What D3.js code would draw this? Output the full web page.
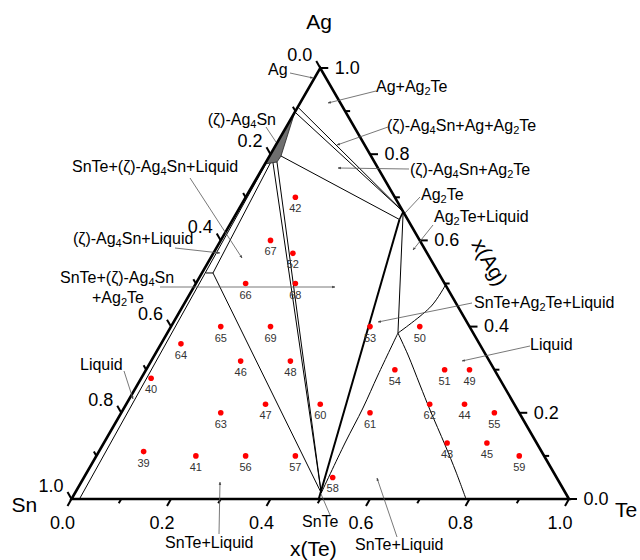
<!DOCTYPE html>
<html><head><meta charset="utf-8">
<script src="https://cdn.jsdelivr.net/npm/d3@7"></script>
<style>
body{margin:0;background:#fff}
svg{display:block}
text{font-family:"Liberation Sans",Arial,Helvetica,sans-serif;fill:#000}
</style>
</head><body>
<svg id="chart" width="640" height="560"></svg>
<script>
// ---------------- DATA ----------------
const tickValues = [0, 0.2, 0.4, 0.6, 0.8, 1.0];
const tickLabels = ["0.0", "0.2", "0.4", "0.6", "0.8", "1.0"];
const minorTickValues = [0.1, 0.3, 0.5, 0.7, 0.9];

// sample compositions (x(Te), x(Ag))
const sampleIds = [42,67,52,66,68,65,69,64,46,48,40,63,47,60,39,41,56,57,53,50,54,51,49,62,44,61,55,43,45,59,58];
const sampleTe  = [0.10,0.10,0.16,0.10,0.20,0.10,0.20,0.04,0.18,0.28,0.02,0.20,0.28,0.39,0.09,0.20,0.30,0.40,0.40,0.50,0.50,0.60,0.65,0.61,0.68,0.50,0.75,0.69,0.77,0.85,0.50];
const sampleAg  = [0.70,0.60,0.57,0.50,0.50,0.40,0.40,0.36,0.32,0.32,0.28,0.20,0.22,0.22,0.11,0.10,0.10,0.10,0.40,0.40,0.30,0.30,0.30,0.22,0.22,0.20,0.20,0.13,0.13,0.10,0.05];

// phase-boundary compositions, each point [x(Te), x(Ag)]
const zetaPhase        = [[0,0.8979],[0,0.7773],[0.0221,0.7819],[0.0232,0.7958]];
const tieAgAg2Te       = [[0,0.9095],[0.3333,0.6667]];
const tieZetaTopAg2Te  = [[0,0.8979],[0.3333,0.6667]];
const tieZetaAg2Te     = [[0.0232,0.7958],[0.335,0.6485]];
const ag2teRange       = [[0.3333,0.6667],[0.335,0.6485]];
const tieZetaSnTeA     = [[0.0150,0.7800],[0.495,0.014]];
const tieZetaSnTeB     = [[0.0221,0.7819],[0.495,0.014]];
const snteAg2Te        = [[0.335,0.6485],[0.497,0]];
const tieZetaLiquid    = [[0.0100,0.7790],[0.0222,0.5244]];
const liquidTieShort   = [[0.0082,0.5244],[0.0222,0.5244]];
const liquidSnSide     = [[0.002,0.7773],[0.016,0]];
const tieLiquidSnTe    = [[0.0222,0.5244],[0.495,0.014]];
const tieAg2TeLiquid   = [[0.3333,0.6667],[0.4637,0.385]];
const liquidusAg2Te    = [[0.5035,0.4965],[0.4995,0.4478],[0.4637,0.385]];
const liquidusSnTeL    = [[0.4637,0.385],[0.4722,0.2877],[0.4803,0.2111],[0.4848,0.1299],[0.495,0.014]];
const liquidusTeSide   = [[0.4637,0.385],[0.5094,0.3341],[0.5682,0.2645],[0.6174,0.2065],[0.6882,0.1253],[0.7416,0.0626],[0.793,0]];

// ---------------- LAYOUT ----------------
const svg = d3.select("#chart");
const sx = d3.scaleLinear().domain([0,1]).range([71.5,569]);
const sy = d3.scaleLinear().domain([0,1]).range([499,68]);
const P = d => [sx(d[0] + d[1]/2), sy(d[1])];
const line = d3.line().x(d => P(d)[0]).y(d => P(d)[1]);
const curve = d3.line().x(d => P(d)[0]).y(d => P(d)[1]).curve(d3.curveCatmullRom.alpha(0.5));

// arrow marker
svg.append("defs").append("marker")
  .attr("id","ah").attr("viewBox","0 0 10 10").attr("refX",9).attr("refY",5)
  .attr("markerWidth",4).attr("markerHeight",4).attr("orient","auto")
  .append("path").attr("d","M0,1 L10,5 L0,9 z").attr("fill","#444");

const g = svg.append("g");

// zeta phase (grey)
g.append("path").datum(zetaPhase)
  .attr("d", d => line(d) + "Z")
  .attr("fill","#6e6e6e").attr("stroke","#222").attr("stroke-width",0.8);

// thin boundary lines
const thin = [tieAgAg2Te, tieZetaTopAg2Te, tieZetaAg2Te, tieZetaSnTeA, tieZetaSnTeB,
  tieZetaLiquid, liquidTieShort, liquidSnSide, tieLiquidSnTe, tieAg2TeLiquid];
g.selectAll("path.thin").data(thin).join("path").attr("class","thin")
  .attr("d", line).attr("fill","none").attr("stroke","#000").attr("stroke-width",1);
const curves = [liquidusAg2Te, liquidusSnTeL, liquidusTeSide];
g.selectAll("path.crv").data(curves).join("path").attr("class","crv")
  .attr("d", curve).attr("fill","none").attr("stroke","#000").attr("stroke-width",1);
g.append("path").datum(ag2teRange).attr("d", line).attr("stroke","#000").attr("stroke-width",1.6).attr("fill","none");
g.append("path").datum(snteAg2Te).attr("d", line).attr("stroke","#000").attr("stroke-width",2).attr("fill","none");

// frame
g.append("path").datum([[0,0],[1,0],[0,1]])
  .attr("d", d => line(d) + "Z")
  .attr("fill","none").attr("stroke","#000").attr("stroke-width",2.6).attr("stroke-linejoin","miter");

// ticks
const axes = [
  {pos: v => P([v,0]), dir: [-0.5, 0.866]},          // bottom x(Te)
  {pos: v => P([1-v, v]), dir: [1, 0]},               // right x(Ag)
  {pos: v => P([0, 1-v]), dir: [-0.5, -0.866]}        // left x(Sn)
];
axes.forEach(ax => {
  const all = tickValues.map(v => ({v, len: 8})).concat(minorTickValues.map(v => ({v, len: 5})));
  g.selectAll(null).data(all).join("line")
    .attr("x1", d => ax.pos(d.v)[0]).attr("y1", d => ax.pos(d.v)[1])
    .attr("x2", d => ax.pos(d.v)[0] + ax.dir[0]*d.len).attr("y2", d => ax.pos(d.v)[1] + ax.dir[1]*d.len)
    .attr("stroke","#000").attr("stroke-width",2);
});
// tick labels
g.selectAll(null).data(tickValues).join("text")
  .attr("x", v => axes[0].pos(v)[0] - 9).attr("y", 528.5)
  .attr("text-anchor","middle").attr("font-size",18).text((v,i) => tickLabels[i]);
g.selectAll(null).data(tickValues).join("text")
  .attr("x", v => axes[1].pos(v)[0] + 14.5).attr("y", v => axes[1].pos(v)[1] + 5.8)
  .attr("font-size",18).text((v,i) => tickLabels[i]);
g.selectAll(null).data(tickValues).join("text")
  .attr("x", v => axes[2].pos(v)[0] - 8).attr("y", v => axes[2].pos(v)[1] - 7)
  .attr("text-anchor","end").attr("font-size",18).text((v,i) => tickLabels[i]);

// axis titles
const titles = [
  {t:"Ag", x:319, y:29, a:"middle"},
  {t:"Sn", x:11.5, y:512, a:"start"},
  {t:"Te", x:615, y:517, a:"start"},
  {t:"x(Te)", x:290, y:556, a:"start"}
];
g.selectAll(null).data(titles).join("text")
  .attr("x", d => d.x).attr("y", d => d.y).attr("text-anchor", d => d.a)
  .attr("font-size",21).text(d => d.t);
g.append("text").attr("transform","translate(490,262) rotate(60)")
  .attr("text-anchor","middle").attr("dominant-baseline","central")
  .attr("font-size",21).text("x(Ag)");

// samples
const samples = sampleIds.map((id,i) => ({id, te: sampleTe[i], ag: sampleAg[i]}));
const sg = g.append("g");
sg.selectAll("circle").data(samples).join("circle")
  .attr("cx", d => P([d.te,d.ag])[0]).attr("cy", d => P([d.te,d.ag])[1])
  .attr("r", 2.8).attr("fill","#ff0000");
sg.selectAll("text").data(samples).join("text")
  .attr("x", d => P([d.te,d.ag])[0]).attr("y", d => P([d.te,d.ag])[1] + 15)
  .attr("text-anchor","middle").attr("font-size",11).style("fill","#333").text(d => d.id);

// region annotations (text with _n subscripts)
const notes = [
  {t:"Ag", x:268, y:74.5, a:"start", from:[290,73], to:[313,78]},
  {t:"Ag+Ag_2Te", x:376, y:92, a:"start", from:[376,91], to:[328,103]},
  {t:"(ζ)-Ag_4Sn+Ag+Ag_2Te", x:387, y:131, a:"start", from:[388,127], to:[337,145]},
  {t:"(ζ)-Ag_4Sn", x:276, y:125, a:"end", from:[266,127], to:[276,142], noHead:true},
  {t:"SnTe+(ζ)-Ag_4Sn+Liquid", x:72, y:172, a:"start", from:[190,178], to:[242,258]},
  {t:"(ζ)-Ag_4Sn+Ag_2Te", x:410, y:175, a:"start", from:[409,169], to:[338,168]},
  {t:"Ag_2Te", x:421, y:200, a:"start", from:[420,197], to:[405,213], noHead:true},
  {t:"Ag_2Te+Liquid", x:434, y:221.5, a:"start", from:[433,225], to:[413,250]},
  {t:"(ζ)-Ag_4Sn+Liquid", x:73, y:244, a:"start", from:[175,248], to:[220,253]},
  {t:"SnTe+(ζ)-Ag_4Sn", x:60, y:283, a:"start", from:[160,287], to:[335,287]},
  {t:"+Ag_2Te", x:92, y:303, a:"start"},
  {t:"SnTe+Ag_2Te+Liquid", x:474, y:308, a:"start", from:[472,303], to:[378,322]},
  {t:"Liquid", x:530, y:350, a:"start", from:[530,346], to:[462,361]},
  {t:"Liquid", x:80, y:370, a:"start", from:[124,371], to:[133,399]},
  {t:"SnTe+Liquid", x:165, y:548, a:"start", from:[219,534], to:[220,482]},
  {t:"SnTe+Liquid", x:355, y:550, a:"start", from:[397,537], to:[377,478]},
  {t:"SnTe", x:302, y:527, a:"start", from:[330,515], to:[321,494], noHead:true}
];
const ng = g.append("g");
notes.filter(d => d.from).forEach(d => {
  ng.append("line").attr("x1", d.from[0]).attr("y1", d.from[1]).attr("x2", d.to[0]).attr("y2", d.to[1])
    .attr("stroke","#555").attr("stroke-width",0.8)
    .attr("marker-end", d.noHead ? null : "url(#ah)");
});
notes.forEach(d => {
  const tx = ng.append("text").attr("x", d.x).attr("y", d.y).attr("text-anchor", d.a).attr("font-size",16);
  const parts = d.t.split(/(_\d)/).filter(s => s.length);
  let sub = false;
  parts.forEach(p => {
    if (p[0] === "_") {
      tx.append("tspan").attr("font-size",11).attr("dy",3).text(p.slice(1));
      sub = true;
    } else {
      tx.append("tspan").attr("dy", sub ? -3 : 0).text(p);
      sub = false;
    }
  });
});
</script>
</body></html>
